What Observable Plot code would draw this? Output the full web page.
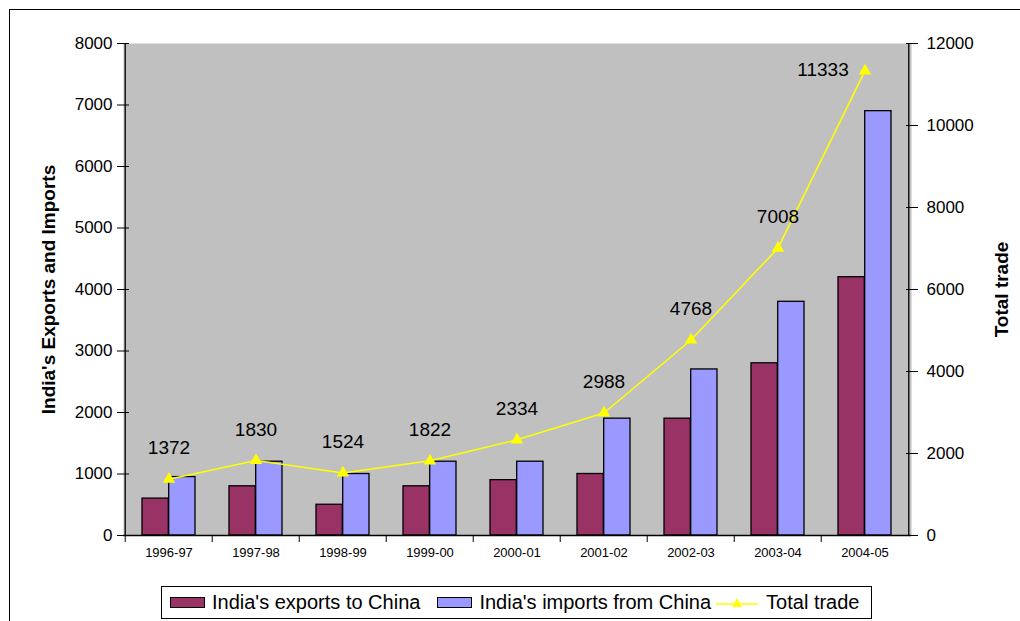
<!DOCTYPE html>
<html>
<head>
<meta charset="utf-8">
<script src="https://cdn.jsdelivr.net/npm/d3@7"></script>
<script src="https://cdn.jsdelivr.net/npm/@observablehq/plot@0.6"></script>
<style>
  html, body { margin: 0; padding: 0; background: #fff; overflow: hidden; }
  #wrap { position: relative; width: 1020px; height: 621px; font-family: "Liberation Sans", Arial, sans-serif; }
  #frame { position: absolute; left: 9px; top: 9px; width: 1100px; height: 700px; border: 1px solid #000; box-sizing: border-box; }
  #chart { position: absolute; left: 0; top: 0; }
  #legend { position: absolute; left: 161px; top: 586px; width: 711px; height: 33px; border: 1px solid #000; box-sizing: border-box;
            display: flex; align-items: center; font-size: 20px; color: #000; padding-left: 8px; white-space: nowrap; background: #fff; }
  .sw { display: inline-block; width: 35px; height: 11px; border: 1px solid #000; box-sizing: border-box; margin-right: 7px; }
  .item { display: flex; align-items: center; }
</style>
</head>
<body>
<div id="wrap">
  <div id="frame"></div>
  <div id="chart"></div>
  <div id="legend"></div>
</div>
<script>
const years = ["1996-97","1997-98","1998-99","1999-00","2000-01","2001-02","2002-03","2003-04","2004-05"];
const exportsToChina = [600, 800, 500, 800, 900, 1000, 1900, 2800, 4200];
const importsFromChina = [950, 1200, 1000, 1200, 1200, 1900, 2700, 3800, 6900];
const totalTrade = [1372, 1830, 1524, 1822, 2334, 2988, 4768, 7008, 11333];
const leftTicks = [0,1000,2000,3000,4000,5000,6000,7000,8000];
const rightTicks = [0,2000,4000,6000,8000,10000,12000];
const seriesNames = ["India's exports to China", "India's imports from China", "Total trade"];
const colors = ["#993366", "#9999FF", "#FFFF00"];
const leftTitle = "India's Exports and Imports";
const rightTitle = "Total trade";

const ratio = 8000 / 12000; // right axis -> left axis units

const W = 1020, H = 580, mL = 123, mR = 109, mT = 43, mB = 45;
const step = (W - mL - mR) / years.length;
const padIn = 0.39;
const bw = step * (1 - padIn);

const rows = years.map((y, i) => ({year: y, exp: exportsToChina[i], imp: importsFromChina[i], total: totalTrade[i], totalScaled: totalTrade[i] * ratio, last: i === years.length - 1}));

const chart = Plot.plot({
  width: W, height: H,
  marginLeft: mL, marginRight: mR, marginTop: mT, marginBottom: mB,
  style: {fontFamily: "'Liberation Sans', Arial, sans-serif", fontSize: "17px", background: "transparent", color: "#000"},
  x: {type: "band", domain: years, paddingInner: padIn, paddingOuter: padIn / 2, align: 0.5},
  y: {domain: [0, 8000]},
  marks: [
    Plot.frame({fill: "#C0C0C0", stroke: null}),
    Plot.barY(rows, {x: "year", y: "exp", fill: colors[0], stroke: "#000", strokeWidth: 1.3, insetRight: bw / 2}),
    Plot.barY(rows, {x: "year", y: "imp", fill: colors[1], stroke: "#000", strokeWidth: 1.3, insetLeft: bw / 2}),
    Plot.line(rows, {x: "year", y: "totalScaled", stroke: colors[2], strokeWidth: 1.6}),
    Plot.dot(rows, {x: "year", y: "totalScaled", symbol: "triangle", r: 4.6, fill: colors[2], stroke: null}),
    Plot.text(rows.filter(d => !d.last), {x: "year", y: "totalScaled", text: d => String(d.total), dy: -31, fontSize: 19}),
    Plot.text(rows.filter(d => d.last), {x: "year", y: "totalScaled", text: d => String(d.total), dx: -42, dy: -1, fontSize: 19}),
    Plot.ruleY([0], {stroke: "#000", strokeWidth: 1.3}),
    Plot.ruleX([0], {x: () => years[0], dx: -step / 2, y1: 0, y2: 8000, stroke: "#000", strokeWidth: 1.3}),
    Plot.ruleX([0], {x: () => years[years.length - 1], dx: step / 2, y1: 0, y2: 8000, stroke: "#000", strokeWidth: 1.3}),
    Plot.axisY(leftTicks, {anchor: "left", tickSize: 6, tickPadding: 5, tickFormat: d => String(d), label: null, fontSize: 17}),
    Plot.axisY(leftTicks, {anchor: "left", tickSize: -6, tickFormat: () => "", label: null}),
    Plot.axisY(rightTicks.map(v => v * ratio), {anchor: "right", tickSize: 6, tickPadding: 9, tickFormat: d => String(Math.round(d / ratio)), label: null, fontSize: 17}),
    Plot.axisY(rightTicks.map(v => v * ratio), {anchor: "right", tickSize: -6, tickFormat: () => "", label: null}),
    Plot.axisX(years, {tickSize: 7, dx: -step / 2, tickFormat: () => "", label: null}),
    Plot.axisX(years, {tickSize: 0, tickPadding: 12, fontSize: 13, label: null}),
    Plot.text([leftTitle], {frameAnchor: "left", dx: -75, rotate: -90, textAnchor: "middle", text: d => d, fontWeight: "bold", fontSize: 19}),
    Plot.text([rightTitle], {frameAnchor: "right", dx: 90, rotate: -90, textAnchor: "middle", text: d => d, fontWeight: "bold", fontSize: 19})
  ]
});
document.getElementById("chart").appendChild(chart);

const lg = document.getElementById("legend");
const gaps = [17, 5, 0];
seriesNames.forEach((name, i) => {
  const it = document.createElement("span");
  it.className = "item";
  if (i < 2) {
    const sw = document.createElement("span");
    sw.className = "sw";
    sw.style.background = colors[i];
    it.appendChild(sw);
  } else {
    const s = document.createElementNS("http://www.w3.org/2000/svg", "svg");
    s.setAttribute("width", 42); s.setAttribute("height", 14);
    s.style.marginRight = "8px";
    s.innerHTML = `<line x1="0" y1="8" x2="42" y2="8" stroke="${colors[2]}" stroke-width="1.6"/><path d="M21,2 L26,11 L16,11 Z" fill="${colors[2]}"/>`;
    it.appendChild(s);
  }
  const t = document.createElement("span");
  t.textContent = name;
  t.style.marginRight = gaps[i] + "px";
  it.appendChild(t);
  lg.appendChild(it);
});
</script>
</body>
</html>
